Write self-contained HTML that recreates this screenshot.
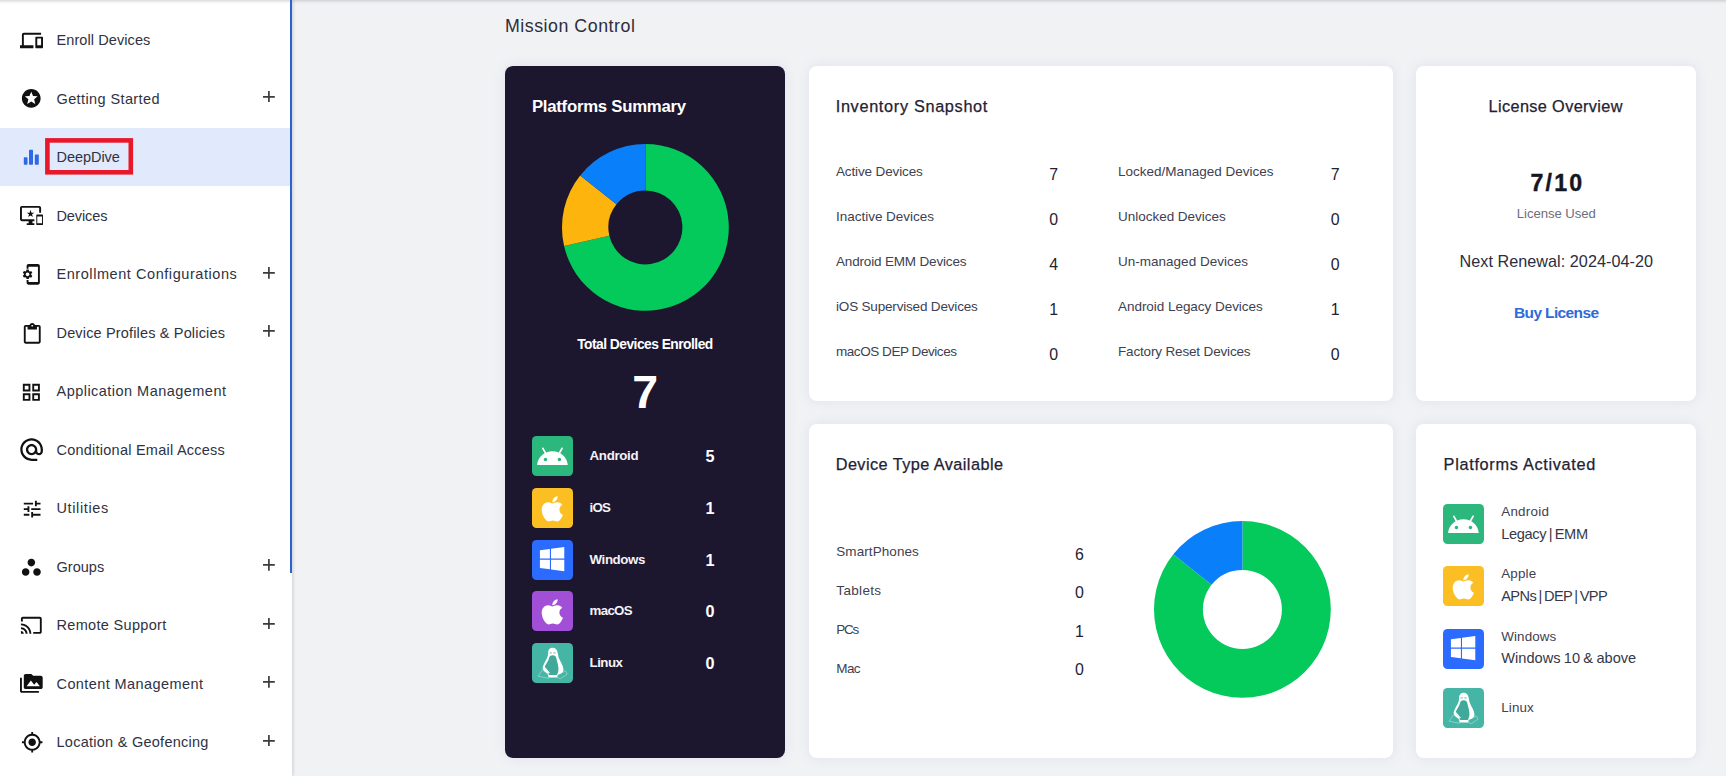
<!DOCTYPE html>
<html lang="en">
<head>
<meta charset="utf-8">
<title>Mission Control</title>
<style>
*{box-sizing:border-box;margin:0;padding:0}
html,body{width:1726px;height:776px;overflow:hidden}
body{background:#f1f2f4;font-family:"Liberation Sans",sans-serif;color:#2f3242;position:relative}
.abs{position:absolute}
#main{position:absolute;left:292px;top:0;width:1434px;height:776px;background:#f1f2f4}
#side{position:absolute;left:0;top:0;width:292px;height:776px;background:#fff;box-shadow:1px 0 3px rgba(30,30,50,.17)}
#sbar{position:absolute;left:290px;top:0;width:2px;height:573px;background:#2a62d4}
#active{position:absolute;left:0;top:127.5px;width:290px;height:58.3px;background:#e1e9fd}
.ico{position:absolute;display:block}
.plus{position:absolute;left:262.9px;display:block}
#topshadow{position:absolute;left:0;top:0;width:1726px;height:4px;background:linear-gradient(rgba(70,70,80,.19),rgba(70,70,80,.06) 55%,rgba(70,70,80,0))}
.card{position:absolute;background:#fff;border-radius:8px;box-shadow:0 0 12px rgba(150,160,215,.19)}
.card.dark{background:#1c162f}
.t{position:absolute;white-space:nowrap;line-height:1;font-weight:400}
.tile{position:absolute;width:41.2px;height:40.2px;border-radius:4.5px;overflow:hidden}
.tile svg{display:block}

</style>
</head>
<body>
<div id="main"></div>
<nav aria-label="Main menu">
<div id="side"></div>
<div id="topshadow"></div>
<div id="active"></div>
<div id="sbar"></div>
<svg class="abs" style="left:44px;top:137px" width="91" height="39" viewBox="44 137 91 39"><rect x="47.4" y="140.4" width="83.4" height="31.9" fill="none" stroke="#e8182b" stroke-width="4.6"/></svg>
<svg class="ico" style="left:19.90px;top:28.60px" width="23" height="23" viewBox="0 0 24 24"><path fill="#111" d="M4 6h18V4H4c-1.1 0-2 .9-2 2v11H0v3h14v-3H4V6zm19 2h-6c-.55 0-1 .45-1 1v10c0 .55.45 1 1 1h6c.55 0 1-.45 1-1V9c0-.55-.45-1-1-1zm-1 9h-4v-7h4v7z"/></svg>
<svg class="ico" style="left:20.15px;top:87.35px" width="22.5" height="22.5" viewBox="0 0 24 24"><path fill="#111" d="M11.99 2C6.47 2 2 6.48 2 12s4.47 10 9.99 10C17.52 22 22 17.52 22 12S17.52 2 11.99 2zm4.24 16L12 15.45 7.77 18l1.12-4.81-3.73-3.23 4.92-.42L12 5l1.92 4.53 4.92.42-3.73 3.23L16.23 18z"/></svg>
<svg class="ico" style="left:23px;top:149px" width="17" height="16.5" viewBox="0 0 17 16.5"><g fill="#2e68e4"><rect x="0.8" y="8.2" width="3.7" height="7.6" rx=".7"/><rect x="6.0" y="0.7" width="4" height="15.1" rx=".7"/><rect x="11.8" y="5.4" width="4" height="10.4" rx=".7"/></g></svg>
<svg class="ico" style="left:19.90px;top:204.30px" width="23" height="23" viewBox="0 0 24 24"><path fill="#111" d="M23 11.01L18 11c-.55 0-1 .45-1 1v9c0 .55.45 1 1 1h5c.55 0 1-.45 1-1v-9c0-.55-.45-.99-1-.99zM23 20h-5v-7h5v7zM20 2H2C.89 2 0 2.89 0 4v12c0 1.1.89 2 2 2h7v2H7v2h8v-2h-2v-2h2v-2H2V4h18v5h2V4c0-1.11-.9-2-2-2zm-8.03 7L11 6l-.97 3H7l2.47 1.76-.94 2.91 2.47-1.8 2.47 1.8-.94-2.91L15 9h-3.03z"/></svg>
<svg class="ico" style="left:20.05px;top:263.35px" width="22.7" height="22.7" viewBox="0 0 24 24"><path fill="#111" d="M11.8 12.5v-1l1.1-.8c.1-.1.1-.2.1-.3l-1-1.7c-.1-.1-.2-.2-.3-.1l-1.3.4c-.3-.2-.6-.4-.9-.5l-.2-1.3c0-.1-.1-.2-.3-.2H7c-.1 0-.2.1-.3.2l-.2 1.3c-.3.1-.6.3-.9.5l-1.3-.5c-.1 0-.2 0-.3.1l-1 1.7c-.1.1 0 .2.1.3l1.1.8v1l-1.1.8c-.1.2-.1.3-.1.4l1 1.7c.1.1.2.2.3.1l1.4-.4c.3.2.6.4.9.5l.2 1.3c-.1.1.1.2.2.2h2c.1 0 .2-.1.3-.2l.2-1.3c.3-.1.6-.3.9-.5l1.3.5c.1 0 .2 0 .3-.1l1-1.7c.1-.1 0-.2-.1-.3l-1.1-.9zM8 14c-1.1 0-2-.9-2-2s.9-2 2-2 2 .9 2 2-.9 2-2 2zM19 1H9c-1.1 0-2 .9-2 2v3h2V4h10v16H9v-2H7v3c0 1.1.9 2 2 2h10c1.1 0 2-.9 2-2V3c0-1.1-.9-2-2-2z"/></svg>
<svg class="ico" style="left:20.80px;top:322.75px" width="22.5" height="22.5" viewBox="0 0 24 24"><path fill="#111" d="M19 2h-4.18C14.4.84 13.3 0 12 0c-1.3 0-2.4.84-2.82 2H5c-1.1 0-2 .9-2 2v16c0 1.1.9 2 2 2h14c1.1 0 2-.9 2-2V4c0-1.1-.9-2-2-2zm-7 0c.55 0 1 .45 1 1s-.45 1-1 1-1-.45-1-1 .45-1 1-1zm7 18H5V4h2v3h10V4h2v16z"/></svg>
<svg class="ico" style="left:20.35px;top:380.75px" width="22.7" height="22.7" viewBox="0 0 24 24"><path fill="#111" d="M3 3v8h8V3H3zm6 6H5V5h4v4zm-6 4v8h8v-8H3zm6 6H5v-4h4v4zm4-16v8h8V3h-8zm6 6h-4V5h4v4zm-6 4v8h8v-8h-8zm6 6h-4v-4h4v4z"/></svg>
<svg class="ico" style="left:17.80px;top:436.00px" width="27.2" height="27.2" viewBox="0 0 24 24"><path fill="#111" d="M12 2C6.48 2 2 6.48 2 12s4.48 10 10 10h5v-2h-5c-4.34 0-8-3.66-8-8s3.66-8 8-8 8 3.66 8 8v1.43c0 .79-.71 1.57-1.5 1.57s-1.5-.78-1.5-1.57V12c0-2.76-2.24-5-5-5s-5 2.24-5 5 2.24 5 5 5c1.38 0 2.64-.56 3.54-1.47.65.89 1.77 1.47 2.96 1.47 1.97 0 3.5-1.6 3.5-3.57V12c0-5.52-4.48-10-10-10zm0 13c-1.66 0-3-1.34-3-3s1.34-3 3-3 3 1.34 3 3-1.34 3-3 3z"/></svg>
<svg class="ico" style="left:20.55px;top:498.15px" width="22.3" height="22.3" viewBox="0 0 24 24"><path fill="#111" d="M3 17v2h6v-2H3zM3 5v2h10V5H3zm10 16v-2h8v-2h-8v-2h-2v6h2zM7 9v2H3v2h4v2h2V9H7zm14 4v-2H11v2h10zm-6-4h2V7h4V5h-4V3h-2v6z"/></svg>
<svg class="ico" style="left:20.00px;top:555.75px" width="22.7" height="22.7" viewBox="0 0 24 24"><path fill="#111" d="M6 13c-2.2 0-4 1.8-4 4s1.8 4 4 4 4-1.8 4-4-1.8-4-4-4zm6-10C9.8 3 8 4.8 8 7s1.8 4 4 4 4-1.8 4-4-1.8-4-4-4zm6 10c-2.2 0-4 1.8-4 4s1.8 4 4 4 4-1.8 4-4-1.8-4-4-4z"/></svg>
<svg class="ico" style="left:20.05px;top:614.05px" width="22.7" height="22.7" viewBox="0 0 24 24"><path fill="#111" d="M21 3H3c-1.1 0-2 .9-2 2v3h2V5h18v14h-7v2h7c1.1 0 2-.9 2-2V5c0-1.1-.9-2-2-2zM1 18v3h3c0-1.66-1.34-3-3-3zm0-4v2c2.76 0 5 2.24 5 5h2c0-3.87-3.13-7-7-7zm0-4v2c4.97 0 9 4.03 9 9h2c0-6.08-4.93-11-11-11z"/></svg>
<svg class="ico" style="left:20.05px;top:672.45px" width="22.7" height="22.7" viewBox="0 0 24 24"><path fill="#111" d="M2 6H0v5h.01L0 20c0 1.1.9 2 2 2h18v-2H2V6zm20-2h-8l-2-2H6c-1.1 0-1.99.9-1.99 2L4 16c0 1.1.9 2 2 2h16c1.1 0 2-.9 2-2V6c0-1.1-.9-2-2-2zM7 15l4.5-6 3.5 4.51 2.5-3.01L21 15H7z"/></svg>
<svg class="ico" style="left:20.80px;top:731.30px" width="22.4" height="22.4" viewBox="0 0 24 24"><path fill="#111" d="M12 8c-2.21 0-4 1.79-4 4s1.79 4 4 4 4-1.79 4-4-1.79-4-4-4zm8.94 3c-.46-4.17-3.77-7.48-7.94-7.94V1h-2v2.06C6.83 3.52 3.52 6.83 3.06 11H1v2h2.06c.46 4.17 3.77 7.48 7.94 7.94V23h2v-2.06c4.17-.46 7.48-3.77 7.94-7.94H23v-2h-2.06zM12 19c-3.87 0-7-3.13-7-7s3.13-7 7-7 7 3.13 7 7-3.13 7-7 7z"/></svg>
<div class="t" style="left:56.5px;top:33px;font-size:14.5px;color:#2f3242;letter-spacing:0.09px">Enroll Devices</div>
<div class="t" style="left:56.5px;top:92px;font-size:14.5px;color:#2f3242;letter-spacing:0.39px">Getting Started</div>
<div class="t" style="left:56.5px;top:150px;font-size:14.5px;color:#2f3242;letter-spacing:-0.05px">DeepDive</div>
<div class="t" style="left:56.5px;top:209px;font-size:14.5px;color:#2f3242;letter-spacing:-0.10px">Devices</div>
<div class="t" style="left:56.5px;top:267px;font-size:14.5px;color:#2f3242;letter-spacing:0.56px">Enrollment Configurations</div>
<div class="t" style="left:56.5px;top:326px;font-size:14.5px;color:#2f3242;letter-spacing:0.16px">Device Profiles &amp; Policies</div>
<div class="t" style="left:56.5px;top:384px;font-size:14.5px;color:#2f3242;letter-spacing:0.47px">Application Management</div>
<div class="t" style="left:56.5px;top:443px;font-size:14.5px;color:#2f3242;letter-spacing:0.24px">Conditional Email Access</div>
<div class="t" style="left:56.5px;top:501px;font-size:14.5px;color:#2f3242;letter-spacing:0.62px">Utilities</div>
<div class="t" style="left:56.5px;top:560px;font-size:14.5px;color:#2f3242;letter-spacing:0.03px">Groups</div>
<div class="t" style="left:56.5px;top:618px;font-size:14.5px;color:#2f3242;letter-spacing:0.32px">Remote Support</div>
<div class="t" style="left:56.5px;top:677px;font-size:14.5px;color:#2f3242;letter-spacing:0.41px">Content Management</div>
<div class="t" style="left:56.5px;top:735px;font-size:14.5px;color:#2f3242;letter-spacing:0.26px">Location &amp; Geofencing</div>
<svg class="plus" style="top:90.5px" width="11.8" height="11.8" viewBox="0 0 11.8 11.8"><path d="M0 5.9H11.8M5.9 0V11.8" stroke="#3b3b40" stroke-width="1.7" fill="none"/></svg>
<svg class="plus" style="top:267.0px" width="11.8" height="11.8" viewBox="0 0 11.8 11.8"><path d="M0 5.9H11.8M5.9 0V11.8" stroke="#3b3b40" stroke-width="1.7" fill="none"/></svg>
<svg class="plus" style="top:325.0px" width="11.8" height="11.8" viewBox="0 0 11.8 11.8"><path d="M0 5.9H11.8M5.9 0V11.8" stroke="#3b3b40" stroke-width="1.7" fill="none"/></svg>
<svg class="plus" style="top:559.2px" width="11.8" height="11.8" viewBox="0 0 11.8 11.8"><path d="M0 5.9H11.8M5.9 0V11.8" stroke="#3b3b40" stroke-width="1.7" fill="none"/></svg>
<svg class="plus" style="top:617.7px" width="11.8" height="11.8" viewBox="0 0 11.8 11.8"><path d="M0 5.9H11.8M5.9 0V11.8" stroke="#3b3b40" stroke-width="1.7" fill="none"/></svg>
<svg class="plus" style="top:676.2px" width="11.8" height="11.8" viewBox="0 0 11.8 11.8"><path d="M0 5.9H11.8M5.9 0V11.8" stroke="#3b3b40" stroke-width="1.7" fill="none"/></svg>
<svg class="plus" style="top:734.7px" width="11.8" height="11.8" viewBox="0 0 11.8 11.8"><path d="M0 5.9H11.8M5.9 0V11.8" stroke="#3b3b40" stroke-width="1.7" fill="none"/></svg>
</nav>
<main>
<h1 class="t" style="left:504.9px;top:18px;font-size:17.8px;color:#2b2e3e;letter-spacing:0.53px">Mission Control</h1>
<section aria-label="Platforms Summary">
<div class="card dark" style="left:505px;top:66px;width:280px;height:691.7px"></div>
<svg class="abs" style="left:560.7px;top:143.2px" width="168.8" height="168.8" viewBox="-84.4 -84.4 168.8 168.8"><path fill="#04c95b" d="M0.00 -83.40A83.4 83.4 0 1 1 -81.31 18.56L-36.07 8.23A37 37 0 1 0 0.00 -37.00Z"/><path fill="#fdb40c" d="M-81.31 18.56A83.4 83.4 0 0 1 -65.20 -52.00L-28.93 -23.07A37 37 0 0 0 -36.07 8.23Z"/><path fill="#0a7ffa" d="M-65.20 -52.00A83.4 83.4 0 0 1 -0.00 -83.40L-0.00 -37.00A37 37 0 0 0 -28.93 -23.07Z"/></svg>
<div class="tile" style="left:532px;top:435.9px;background:#2cb87c"><svg width="41" height="41" viewBox="0 0 41 41.4"><g transform="translate(3.55,4.05) scale(1.4083)"><path fill="#fff" d="M17.6 9.48l1.84-3.18c.16-.31.04-.69-.26-.85-.29-.15-.65-.06-.83.22l-1.88 3.24c-2.86-1.21-6.08-1.21-8.94 0L5.65 5.67c-.19-.29-.58-.38-.87-.2-.28.18-.37.54-.22.83L6.4 9.48C3.3 11.25 1.28 14.44 1 18h22c-.28-3.56-2.3-6.75-5.4-8.52zM7 15.25c-.69 0-1.25-.56-1.25-1.25s.56-1.25 1.25-1.25 1.25.56 1.25 1.25-.56 1.25-1.25 1.25zm10 0c-.69 0-1.25-.56-1.25-1.25s.56-1.25 1.25-1.25 1.25.56 1.25 1.25-.56 1.25-1.25 1.25z"/></g></svg></div>
<div class="tile" style="left:532px;top:487.7px;background:#fbbf24"><svg width="41" height="41" viewBox="0 0 41 41.4"><g transform="translate(9.37,6.43) scale(0.05692)"><path fill="#fff" d="M318.7 268.7c-.2-36.7 16.4-64.4 50-84.8-18.8-26.9-47.2-41.7-84.7-44.6-35.5-2.8-74.3 20.7-88.5 20.7-15 0-49.4-19.7-76.4-19.7C63.3 141.2 4 184.8 4 273.5q0 39.3 14.4 81.2c12.8 36.7 59 126.7 107.2 125.2 25.2-.6 43-17.9 75.8-17.9 31.8 0 48.3 17.9 76.4 17.9 48.6-.7 90.4-82.5 102.6-119.3-65.2-30.7-61.7-90-61.7-91.9zm-56.6-164.2c27.3-32.4 24.8-61.9 24-72.5-24.1 1.4-52 16.4-67.9 34.9-17.5 19.8-27.8 44.3-25.6 71.9 26.1 2 49.9-11.4 69.5-34.3z"/></g></svg></div>
<div class="tile" style="left:532px;top:539.5px;background:#2b6bff"><svg width="41" height="41" viewBox="0 0 41 41.4"><g transform="translate(7.80,5.24) scale(0.05491)"><path fill="#fff" d="M0 93.7l183.6-25.3v177.4H0V93.7zm0 324.6l183.6 25.3V268.4H0v149.9zm203.8 28L448 480V268.4H203.8v177.9zm0-380.6v180.1H448V32L203.8 65.7z"/></g></svg></div>
<div class="tile" style="left:532px;top:591.3px;background:#a24fd8"><svg width="41" height="41" viewBox="0 0 41 41.4"><g transform="translate(9.37,6.43) scale(0.05692)"><path fill="#fff" d="M318.7 268.7c-.2-36.7 16.4-64.4 50-84.8-18.8-26.9-47.2-41.7-84.7-44.6-35.5-2.8-74.3 20.7-88.5 20.7-15 0-49.4-19.7-76.4-19.7C63.3 141.2 4 184.8 4 273.5q0 39.3 14.4 81.2c12.8 36.7 59 126.7 107.2 125.2 25.2-.6 43-17.9 75.8-17.9 31.8 0 48.3 17.9 76.4 17.9 48.6-.7 90.4-82.5 102.6-119.3-65.2-30.7-61.7-90-61.7-91.9zm-56.6-164.2c27.3-32.4 24.8-61.9 24-72.5-24.1 1.4-52 16.4-67.9 34.9-17.5 19.8-27.8 44.3-25.6 71.9 26.1 2 49.9-11.4 69.5-34.3z"/></g></svg></div>
<div class="tile" style="left:532px;top:643.1px;background:#45b6a6"><svg width="41" height="41" viewBox="0 0 41 41.4"><g fill="none" stroke="#fff" stroke-opacity=".38" stroke-width=".9"><path d="M10.3 27.2L6 33.6L16.6 35.6L16.2 31.6Z"/><path d="M26 31.8L33.6 28.4L35.4 31.4L28.4 36L25.4 35Z"/></g><path fill="#fff" d="M20.6 4.8C17.5 4.8 16.1 7 16.1 10C16.1 13.5 14.5 16 13 19C11.5 22 10.3 24.5 10.6 25.8C11 27.5 14 30 16.1 31.5L16.8 34.8L25.1 34.8L25.6 32C28 31.5 31.6 30 31.6 27C31.6 23 28.5 19 27 15.5C25.8 12.5 26.5 4.8 20.6 4.8Z"/><path fill="#45b6a6" d="M20.6 12.4C18.5 12.4 17.2 13.5 17 15.5C16.5 18.5 13.3 21.5 12.6 24.6C12.4 26 14.6 28 16 29.2L17 32.2L24.8 32.2C26 30.5 26.8 28 26.4 24.5C26 21 24.8 18 24.4 15.5C24 13.5 22.8 12.4 20.6 12.4Z"/><path fill="#000" fill-opacity=".07" d="M20.6 12.4C18.5 12.4 17.2 13.5 17 15.5C16.5 18.5 13.3 21.5 12.6 24.6C12.4 26 14.6 28 16 29.2L17 32.2L24.8 32.2C26 30.5 26.8 28 26.4 24.5C26 21 24.8 18 24.4 15.5C24 13.5 22.8 12.4 20.6 12.4Z"/><path fill="none" stroke="#fff" stroke-width="1.1" d="M12 24.2L17.4 30.4"/><path fill="#45b6a6" fill-opacity=".5" d="M17.6 9.2h2.2v1.6h-2.2zM21.4 9.2h2.2v1.6h-2.2z"/></svg></div>
<h2 class="t" style="left:531.9px;top:99px;font-size:16.8px;color:#ffffff;font-weight:700;letter-spacing:-0.27px">Platforms Summary</h2>
<div class="t" style="left:577.2px;top:338px;font-size:13.8px;color:#ffffff;font-weight:700;letter-spacing:-0.52px">Total Devices Enrolled</div>
<div class="t" style="left:632.2px;top:369px;font-size:46.5px;color:#ffffff;font-weight:700">7</div>
<div class="t" style="left:589.6px;top:449px;font-size:13.3px;color:#f3f2f8;font-weight:700;letter-spacing:-0.33px">Android</div>
<div class="t" style="left:705.5px;top:448px;font-size:16.2px;color:#ffffff;font-weight:700">5</div>
<div class="t" style="left:589.6px;top:501px;font-size:13.3px;color:#f3f2f8;font-weight:700;letter-spacing:-0.85px">iOS</div>
<div class="t" style="left:705.5px;top:500px;font-size:16.2px;color:#ffffff;font-weight:700">1</div>
<div class="t" style="left:589.6px;top:553px;font-size:13.3px;color:#f3f2f8;font-weight:700;letter-spacing:-0.42px">Windows</div>
<div class="t" style="left:705.5px;top:552px;font-size:16.2px;color:#ffffff;font-weight:700">1</div>
<div class="t" style="left:589.6px;top:604px;font-size:13.3px;color:#f3f2f8;font-weight:700;letter-spacing:-0.71px">macOS</div>
<div class="t" style="left:705.5px;top:603px;font-size:16.2px;color:#ffffff;font-weight:700">0</div>
<div class="t" style="left:589.6px;top:656px;font-size:13.3px;color:#f3f2f8;font-weight:700;letter-spacing:-0.52px">Linux</div>
<div class="t" style="left:705.5px;top:655px;font-size:16.2px;color:#ffffff;font-weight:700">0</div>
</section>
<section aria-label="Inventory Snapshot">
<div class="card" style="left:809px;top:66px;width:584px;height:335px"></div>
<h2 class="t" style="left:835.7px;top:98px;font-size:16.3px;color:#1f2233;letter-spacing:0.67px;-webkit-text-stroke:0.25px #1f2233">Inventory Snapshot</h2>
<div class="t" style="left:836.0px;top:165px;font-size:13.5px;color:#3d4152;letter-spacing:-0.13px">Active Devices</div>
<div class="t" style="left:1049.3px;top:167px;font-size:15.9px;color:#1f2233">7</div>
<div class="t" style="left:836.0px;top:210px;font-size:13.5px;color:#3d4152;letter-spacing:-0.02px">Inactive Devices</div>
<div class="t" style="left:1049.3px;top:212px;font-size:15.9px;color:#1f2233">0</div>
<div class="t" style="left:836.0px;top:255px;font-size:13.5px;color:#3d4152;letter-spacing:-0.17px">Android EMM Devices</div>
<div class="t" style="left:1049.3px;top:257px;font-size:15.9px;color:#1f2233">4</div>
<div class="t" style="left:836.0px;top:300px;font-size:13.5px;color:#3d4152;letter-spacing:-0.18px">iOS Supervised Devices</div>
<div class="t" style="left:1049.3px;top:302px;font-size:15.9px;color:#1f2233">1</div>
<div class="t" style="left:836.0px;top:345px;font-size:13.5px;color:#3d4152;letter-spacing:-0.44px">macOS DEP Devices</div>
<div class="t" style="left:1049.3px;top:347px;font-size:15.9px;color:#1f2233">0</div>
<div class="t" style="left:1118.0px;top:165px;font-size:13.5px;color:#3d4152;letter-spacing:0.01px">Locked/Managed Devices</div>
<div class="t" style="left:1330.7px;top:167px;font-size:15.9px;color:#1f2233">7</div>
<div class="t" style="left:1118.0px;top:210px;font-size:13.5px;color:#3d4152;letter-spacing:-0.02px">Unlocked Devices</div>
<div class="t" style="left:1330.7px;top:212px;font-size:15.9px;color:#1f2233">0</div>
<div class="t" style="left:1118.0px;top:255px;font-size:13.5px;color:#3d4152;letter-spacing:0.01px">Un-managed Devices</div>
<div class="t" style="left:1330.7px;top:257px;font-size:15.9px;color:#1f2233">0</div>
<div class="t" style="left:1118.0px;top:300px;font-size:13.5px;color:#3d4152;letter-spacing:-0.04px">Android Legacy Devices</div>
<div class="t" style="left:1330.7px;top:302px;font-size:15.9px;color:#1f2233">1</div>
<div class="t" style="left:1118.0px;top:345px;font-size:13.5px;color:#3d4152;letter-spacing:-0.16px">Factory Reset Devices</div>
<div class="t" style="left:1330.7px;top:347px;font-size:15.9px;color:#1f2233">0</div>
</section>
<section aria-label="License Overview">
<div class="card" style="left:1416px;top:66px;width:280px;height:335px"></div>
<h2 class="t" style="left:1488.6px;top:98px;font-size:16.3px;color:#1f2233;letter-spacing:0.36px;-webkit-text-stroke:0.25px #1f2233">License Overview</h2>
<div class="t" style="left:1530.4px;top:172px;font-size:23.2px;color:#15161f;font-weight:700;letter-spacing:2.20px;-webkit-text-stroke:0.4px #15161f">7/10</div>
<div class="t" style="left:1516.8px;top:207px;font-size:13.1px;color:#6b6e7c;letter-spacing:-0.04px">License Used</div>
<div class="t" style="left:1459.5px;top:253px;font-size:16.2px;color:#2b2e3e;letter-spacing:0.04px">Next Renewal: 2024-04-20</div>
<div class="t" style="left:1514.0px;top:305px;font-size:15.5px;color:#2f6bd8;font-weight:700;letter-spacing:-0.63px">Buy License</div>
</section>
<section aria-label="Device Type Available">
<div class="card" style="left:809px;top:424px;width:584px;height:333.7px"></div>
<svg class="abs" style="left:1152.5px;top:519.6px" width="178.8" height="178.8" viewBox="-89.4 -89.4 178.8 178.8"><path fill="#04c95b" d="M0.00 -88.40A88.4 88.4 0 1 1 -69.11 -55.12L-30.88 -24.63A39.5 39.5 0 1 0 0.00 -39.50Z"/><path fill="#0a7ffa" d="M-69.11 -55.12A88.4 88.4 0 0 1 -0.00 -88.40L-0.00 -39.50A39.5 39.5 0 0 0 -30.88 -24.63Z"/></svg>
<h2 class="t" style="left:835.7px;top:456px;font-size:16.3px;color:#1f2233;letter-spacing:0.43px;-webkit-text-stroke:0.25px #1f2233">Device Type Available</h2>
<div class="t" style="left:836.3px;top:545px;font-size:13.5px;color:#3d4152;letter-spacing:0.07px">SmartPhones</div>
<div class="t" style="left:1074.9px;top:547px;font-size:15.9px;color:#1f2233">6</div>
<div class="t" style="left:836.3px;top:584px;font-size:13.5px;color:#3d4152;letter-spacing:0.34px">Tablets</div>
<div class="t" style="left:1074.9px;top:585px;font-size:15.9px;color:#1f2233">0</div>
<div class="t" style="left:836.3px;top:623px;font-size:13.5px;color:#3d4152;letter-spacing:-1.30px">PCs</div>
<div class="t" style="left:1074.9px;top:624px;font-size:15.9px;color:#1f2233">1</div>
<div class="t" style="left:836.3px;top:662px;font-size:13.5px;color:#3d4152;letter-spacing:-0.66px">Mac</div>
<div class="t" style="left:1074.9px;top:662px;font-size:15.9px;color:#1f2233">0</div>
</section>
<section aria-label="Platforms Activated">
<div class="card" style="left:1416px;top:424px;width:280px;height:333.7px"></div>
<div class="tile" style="left:1443px;top:503.5px;background:#2cb87c"><svg width="41" height="41" viewBox="0 0 41 41.4"><g transform="translate(3.55,4.05) scale(1.4083)"><path fill="#fff" d="M17.6 9.48l1.84-3.18c.16-.31.04-.69-.26-.85-.29-.15-.65-.06-.83.22l-1.88 3.24c-2.86-1.21-6.08-1.21-8.94 0L5.65 5.67c-.19-.29-.58-.38-.87-.2-.28.18-.37.54-.22.83L6.4 9.48C3.3 11.25 1.28 14.44 1 18h22c-.28-3.56-2.3-6.75-5.4-8.52zM7 15.25c-.69 0-1.25-.56-1.25-1.25s.56-1.25 1.25-1.25 1.25.56 1.25 1.25-.56 1.25-1.25 1.25zm10 0c-.69 0-1.25-.56-1.25-1.25s.56-1.25 1.25-1.25 1.25.56 1.25 1.25-.56 1.25-1.25 1.25z"/></g></svg></div>
<div class="tile" style="left:1443px;top:565.9px;background:#fbbf24"><svg width="41" height="41" viewBox="0 0 41 41.4"><g transform="translate(9.37,6.43) scale(0.05692)"><path fill="#fff" d="M318.7 268.7c-.2-36.7 16.4-64.4 50-84.8-18.8-26.9-47.2-41.7-84.7-44.6-35.5-2.8-74.3 20.7-88.5 20.7-15 0-49.4-19.7-76.4-19.7C63.3 141.2 4 184.8 4 273.5q0 39.3 14.4 81.2c12.8 36.7 59 126.7 107.2 125.2 25.2-.6 43-17.9 75.8-17.9 31.8 0 48.3 17.9 76.4 17.9 48.6-.7 90.4-82.5 102.6-119.3-65.2-30.7-61.7-90-61.7-91.9zm-56.6-164.2c27.3-32.4 24.8-61.9 24-72.5-24.1 1.4-52 16.4-67.9 34.9-17.5 19.8-27.8 44.3-25.6 71.9 26.1 2 49.9-11.4 69.5-34.3z"/></g></svg></div>
<div class="tile" style="left:1443px;top:628.6px;background:#2b6bff"><svg width="41" height="41" viewBox="0 0 41 41.4"><g transform="translate(7.80,5.24) scale(0.05491)"><path fill="#fff" d="M0 93.7l183.6-25.3v177.4H0V93.7zm0 324.6l183.6 25.3V268.4H0v149.9zm203.8 28L448 480V268.4H203.8v177.9zm0-380.6v180.1H448V32L203.8 65.7z"/></g></svg></div>
<div class="tile" style="left:1443px;top:688.2px;background:#45b6a6"><svg width="41" height="41" viewBox="0 0 41 41.4"><g fill="none" stroke="#fff" stroke-opacity=".38" stroke-width=".9"><path d="M10.3 27.2L6 33.6L16.6 35.6L16.2 31.6Z"/><path d="M26 31.8L33.6 28.4L35.4 31.4L28.4 36L25.4 35Z"/></g><path fill="#fff" d="M20.6 4.8C17.5 4.8 16.1 7 16.1 10C16.1 13.5 14.5 16 13 19C11.5 22 10.3 24.5 10.6 25.8C11 27.5 14 30 16.1 31.5L16.8 34.8L25.1 34.8L25.6 32C28 31.5 31.6 30 31.6 27C31.6 23 28.5 19 27 15.5C25.8 12.5 26.5 4.8 20.6 4.8Z"/><path fill="#45b6a6" d="M20.6 12.4C18.5 12.4 17.2 13.5 17 15.5C16.5 18.5 13.3 21.5 12.6 24.6C12.4 26 14.6 28 16 29.2L17 32.2L24.8 32.2C26 30.5 26.8 28 26.4 24.5C26 21 24.8 18 24.4 15.5C24 13.5 22.8 12.4 20.6 12.4Z"/><path fill="#000" fill-opacity=".07" d="M20.6 12.4C18.5 12.4 17.2 13.5 17 15.5C16.5 18.5 13.3 21.5 12.6 24.6C12.4 26 14.6 28 16 29.2L17 32.2L24.8 32.2C26 30.5 26.8 28 26.4 24.5C26 21 24.8 18 24.4 15.5C24 13.5 22.8 12.4 20.6 12.4Z"/><path fill="none" stroke="#fff" stroke-width="1.1" d="M12 24.2L17.4 30.4"/><path fill="#45b6a6" fill-opacity=".5" d="M17.6 9.2h2.2v1.6h-2.2zM21.4 9.2h2.2v1.6h-2.2z"/></svg></div>
<h2 class="t" style="left:1443.6px;top:456px;font-size:16.3px;color:#1f2233;letter-spacing:0.69px;-webkit-text-stroke:0.25px #1f2233">Platforms Activated</h2>
<div class="t" style="left:1501.2px;top:505px;font-size:13.4px;color:#3d4152;letter-spacing:0.26px">Android</div>
<div class="t" style="left:1501.2px;top:527px;font-size:14.6px;color:#353848;letter-spacing:-0.34px;word-spacing:-1.2px">Legacy | EMM</div>
<div class="t" style="left:1501.2px;top:567px;font-size:13.4px;color:#3d4152;letter-spacing:0.16px">Apple</div>
<div class="t" style="left:1501.2px;top:589px;font-size:14.6px;color:#353848;letter-spacing:-0.58px;word-spacing:-1.2px">APNs | DEP | VPP</div>
<div class="t" style="left:1501.2px;top:630px;font-size:13.4px;color:#3d4152;letter-spacing:0.13px">Windows</div>
<div class="t" style="left:1501.2px;top:651px;font-size:14.6px;color:#353848;letter-spacing:0.02px;word-spacing:-0.8px">Windows 10 &amp; above</div>
<div class="t" style="left:1501.2px;top:701px;font-size:13.4px;color:#3d4152;letter-spacing:0.15px">Linux</div>
</section>
</main>
</body>
</html>
